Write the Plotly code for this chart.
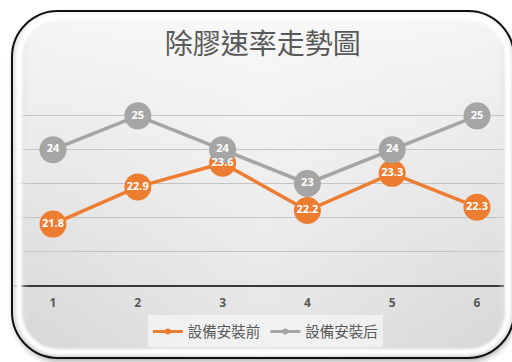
import base64
import plotly.graph_objects as go

# Data
periods = [1, 2, 3, 4, 5, 6]
before_install = [21.8, 22.9, 23.6, 22.2, 23.3, 22.3]
after_install = [24, 25, 24, 23, 24, 25]
series_names = ["設備安裝前", "設備安裝后"]
chart_title = "除膠速率走勢圖"

ORANGE = "#ED7D31"
GREY = "#A5A5A5"
TEXT = "#595959"

W, H = 512, 362
L, R, T, B = 14, 8, 82, 77
PW, PH = W - L - R, H - T - B


def svg_uri(svg):
    return "data:image/svg+xml;base64," + base64.b64encode(svg.encode("utf-8")).decode("ascii")


# Rounded panel with a vertical grey gradient and a soft drop shadow
panel_svg = f"""<svg xmlns='http://www.w3.org/2000/svg' width='{W}' height='{H}' viewBox='0 0 {W} {H}'>
<defs>
<linearGradient id='bg' x1='0' y1='0' x2='0' y2='1'>
<stop offset='0' stop-color='#f6f6f6'/>
<stop offset='0.5' stop-color='#e6e6e6'/>
<stop offset='1' stop-color='#d6d6d6'/>
</linearGradient>
<linearGradient id='hz' x1='0' y1='0' x2='1' y2='0'>
<stop offset='0' stop-color='#ffffff' stop-opacity='0'/>
<stop offset='0.5' stop-color='#ffffff' stop-opacity='0.35'/>
<stop offset='1' stop-color='#ffffff' stop-opacity='0'/>
</linearGradient>
<filter id='sh' x='-10%' y='-10%' width='120%' height='130%'>
<feGaussianBlur stdDeviation='3'/>
</filter>
</defs>
<rect width='{W}' height='{H}' fill='#ffffff'/>
<rect x='14' y='15' width='500' height='346' rx='46' ry='46' fill='#555' opacity='0.55' filter='url(#sh)'/>
<rect x='12' y='11' width='502' height='347' rx='46' ry='46' fill='url(#bg)'/>
<rect x='12' y='11' width='502' height='347' rx='46' ry='46' fill='url(#hz)'/>
</svg>"""

# Glossy rim and dark outline drawn over the plot edges
rim_svg = f"""<svg xmlns='http://www.w3.org/2000/svg' width='{W}' height='{H}' viewBox='0 0 {W} {H}'>
<defs>
<linearGradient id='edge' x1='0' y1='0' x2='1' y2='0'>
<stop offset='0' stop-color='#e4e4e4'/>
<stop offset='0.035' stop-color='#e4e4e4' stop-opacity='0'/>
<stop offset='0.965' stop-color='#e4e4e4' stop-opacity='0'/>
<stop offset='1' stop-color='#e4e4e4'/>
</linearGradient>
<filter id='gl'><feGaussianBlur stdDeviation='1.2'/></filter>
</defs>
<rect x='12' y='11' width='502' height='347' rx='46' ry='46' fill='url(#edge)' opacity='0.9'/>
<rect x='19' y='17' width='489' height='335' rx='40' ry='40' fill='none' stroke='#ffffff' stroke-width='6' opacity='0.95' filter='url(#gl)'/>
<rect x='12' y='11' width='502' height='347' rx='46' ry='46' fill='none' stroke='#111' stroke-width='2'/>
</svg>"""

fig = go.Figure()

line_specs = [(before_install, ORANGE, series_names[0]), (after_install, GREY, series_names[1])]

# Lines with large round markers
for vals, color, name in line_specs:
    fig.add_trace(go.Scatter(
        x=periods, y=vals, mode="lines+markers", name=name,
        line=dict(color=color, width=3.5),
        marker=dict(size=27, color=color),
        showlegend=False, cliponaxis=False, hoverinfo="skip",
    ))

# Value labels drawn above every marker
for vals, color, name in line_specs:
    fig.add_trace(go.Scatter(
        x=periods, y=vals, mode="text",
        text=[f"{v:g}" for v in vals], textposition="middle center",
        textfont=dict(family="Open Sans", size=11, color="white", weight="bold"),
        showlegend=False, cliponaxis=False, hoverinfo="skip",
    ))

# Legend entries with small markers
for vals, color, name in line_specs:
    fig.add_trace(go.Scatter(
        x=[None], y=[None], mode="lines+markers", name=name,
        line=dict(color=color, width=3),
        marker=dict(size=6, color=color),
    ))

frame = dict(xref="paper", yref="paper", x=-L / PW, y=1 + T / PH,
             sizex=W / PW, sizey=H / PH, xanchor="left", yanchor="top", sizing="stretch")

fig.update_layout(
    width=W, height=H,
    margin=dict(l=L, r=R, t=T, b=B, pad=0),
    paper_bgcolor="white",
    plot_bgcolor="rgba(0,0,0,0)",
    title=dict(
        text=chart_title, x=0.513, xanchor="center", y=1 - 44 / H, yanchor="middle",
        font=dict(family="Noto Sans CJK TC", size=28, color=TEXT),
    ),
    xaxis=dict(
        range=[1 + (L - 53) / 84.8, 1 + (W - R - 53) / 84.8],
        tickmode="array", tickvals=periods, ticktext=[str(p) for p in periods],
        showgrid=False, zeroline=False,
        showline=True, linecolor="#3a3a3a", linewidth=1.5,
        ticks="", ticklabelstandoff=6,
        tickfont=dict(family="Open Sans", size=12, color=TEXT, weight="bold"),
    ),
    yaxis=dict(
        range=[20, 26], dtick=1, showticklabels=False,
        showgrid=True, gridcolor="#c4c4c4", gridwidth=1,
        zeroline=False, showline=False,
    ),
    legend=dict(
        orientation="h", x=0.513, xanchor="center", y=-0.15, yanchor="top",
        bgcolor="rgba(245,245,245,0.75)",
        font=dict(family="Noto Sans CJK TC", size=14.5, color=TEXT),
        itemwidth=30,
    ),
    images=[
        dict(source=svg_uri(panel_svg), layer="below", **frame),
        dict(source=svg_uri(rim_svg), layer="above", **frame),
    ],
)

fig.write_html("out.html")
